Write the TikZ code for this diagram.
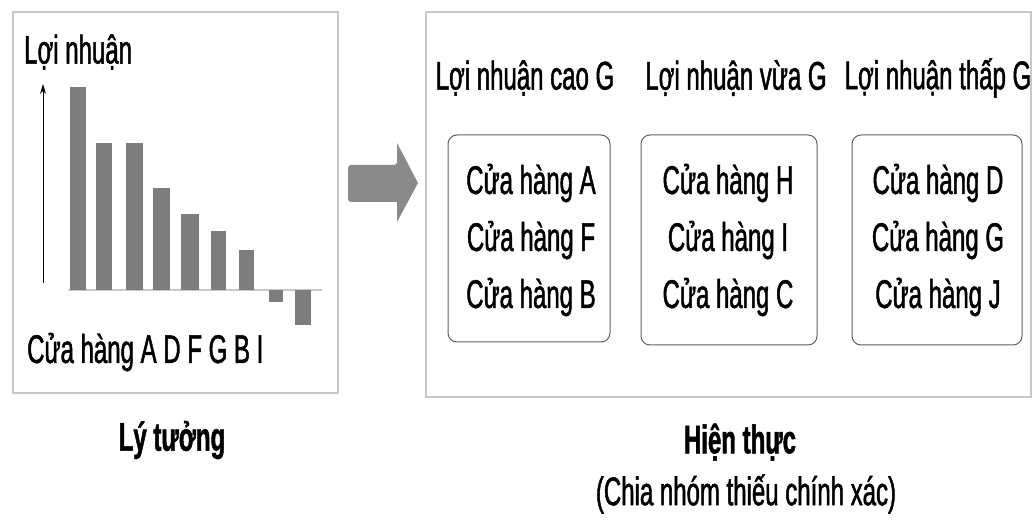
\documentclass[tikz,border=0pt]{standalone}
\usepackage{fontspec}
\setmainfont{Liberation Sans}[FakeStretch=0.6,FakeBold=1.2]
\usetikzlibrary{arrows.meta}
\definecolor{barfill}{RGB}{125,125,125}
\definecolor{panelline}{RGB}{200,200,200}
\definecolor{groupline}{RGB}{95,95,95}
\tikzset{
  panel/.style={draw=panelline, line width=1.8pt},
  group/.style={draw=groupline, line width=1pt, rounded corners=9pt},
  bar/.style={fill=barfill, draw=none},
  label/.style={inner sep=0pt, font=\fontsize{40}{57}\selectfont},
  caption/.style={inner sep=0pt, font=\fontsize{40}{52}\selectfont\bfseries},
}
\begin{document}
\begin{tikzpicture}[x=1pt,y=-1pt]
\useasboundingbox (0,0) rectangle (1034,521);

% ideal ranking panel
\draw[panel] (13,12) rectangle (338,393);
\node[label, anchor=west] (ylab) at (24,52) {Lợi nhuận};
\coordinate (ax0) at (43,283);
\coordinate (ax1) at (43,84);
\draw[line width=1pt, -{Stealth[length=10pt,width=6pt]}] (ax0) -- (ax1);
\draw[panelline, line width=1.2pt] (68,290) -- (322,290);
\foreach \l/\r/\t/\b in {70/86/87/290, 96/112/143/290, 126/143/143/290,
  153/170/188/290, 181/199/214/290, 211/226/231/290, 239/254/250/290,
  269/283/290/302, 295/311/290/325}
  \fill[bar] (\l,\t) rectangle (\r,\b);
\node[label, anchor=west] (xlab) at (27,352) {Cửa hàng A D F G B I};
\node[caption] (ideal) at (172,440) {Lý tưởng};

% block arrow between the panels
\fill[barfill!90, rounded corners=3pt] (348,165) -- (397,165)
  [sharp corners] -- (397,143) -- (418,183) -- (397,222) -- (397,202)
  [rounded corners=3pt] -- (348,202) -- cycle;

% actual grouping panel
\draw[panel] (426,12) rectangle (1031,397);
\node[label] (h1) at (525,78) {Lợi nhuận cao G};
\node[label] (h2) at (736,78) {Lợi nhuận vừa G};
\node[label] (h3) at (938,78) {Lợi nhuận thấp G};

\draw[group] (448,135) rectangle (610,342);
\draw[group] (641,135) rectangle (817,345);
\draw[group] (852,135) rectangle (1022,345);

\node[label, align=center] (g1) at (531,240) {Cửa hàng A\\Cửa hàng F\\Cửa hàng B};
\node[label, align=center] (g2) at (728,240) {Cửa hàng H\\Cửa hàng I\\Cửa hàng C};
\node[label, align=center] (g3) at (938,240) {Cửa hàng D\\Cửa hàng G\\Cửa hàng J};

\node[caption] (real) at (740,442) {Hiện thực};
\node[label] (note) at (746,494) {(Chia nhóm thiếu chính xác)};
\end{tikzpicture}
\end{document}
